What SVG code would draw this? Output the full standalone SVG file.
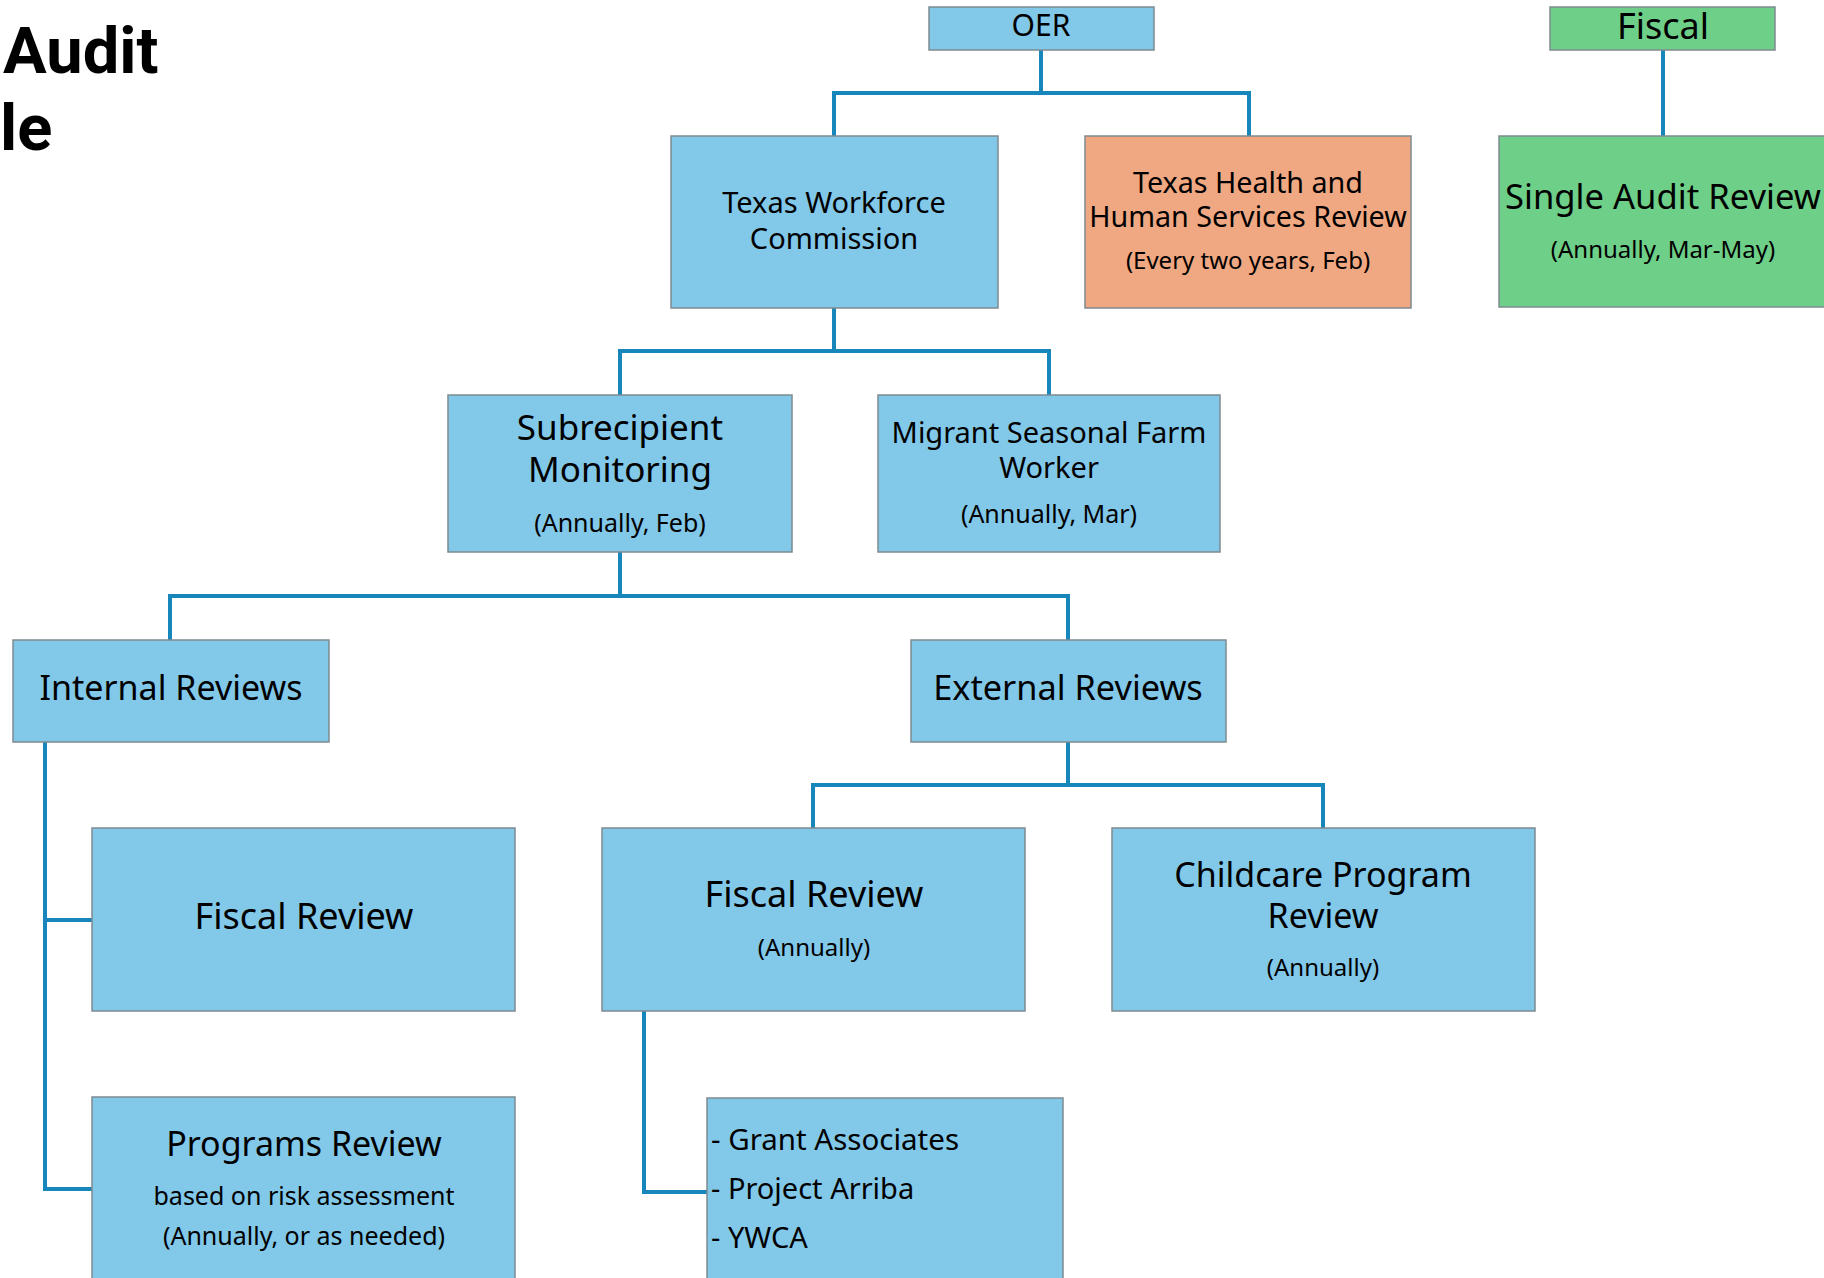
<svg xmlns="http://www.w3.org/2000/svg" width="1824" height="1278" viewBox="0 0 1824 1278">
<style>
.box{stroke:#7f8a90;stroke-width:1.5}
.blue{fill:#82C8E9}
.orange{fill:#F0A882}
.green{fill:#6ECF88}
text{font-family:"Noto Sans","Open Sans","Liberation Sans",sans-serif;fill:#000;text-anchor:middle}
.l{text-anchor:start}
.conn{fill:none;stroke:#1786BB;stroke-width:4;stroke-linejoin:miter;stroke-linecap:butt}
.title{font-family:Roboto,"Liberation Sans",sans-serif;font-weight:bold;font-size:65px;text-anchor:start}
</style>
<rect width="1824" height="1278" fill="#ffffff"/>
<text class="title" x="3" y="73">Audit</text>
<text class="title" x="0" y="150">le</text>
<g id="connectors">
<path class="conn" d="M1041,50 V93"/>
<path class="conn" d="M834,136 V93 H1249 V136"/>
<path class="conn" d="M1663,50 V136"/>
<path class="conn" d="M834,308 V351"/>
<path class="conn" d="M620,395 V351 H1049 V395"/>
<path class="conn" d="M620,552 V596"/>
<path class="conn" d="M170,640 V596 H1068 V640"/>
<path class="conn" d="M45,742 V1189 H92"/>
<path class="conn" d="M45,920 H92"/>
<path class="conn" d="M1068,742 V785"/>
<path class="conn" d="M813,828 V785 H1323 V828"/>
<path class="conn" d="M644,1011 V1192 H707"/>
</g>
<g id="oer">
<rect class="box blue" x="929" y="7" width="225" height="43"/>
<text x="1041" y="36" font-size="30">OER</text>
</g>
<g id="fiscal">
<rect class="box green" x="1550" y="7" width="225" height="43"/>
<text x="1663" y="39" font-size="36">Fiscal</text>
</g>
<g id="twc">
<rect class="box blue" x="671" y="136" width="327" height="172"/>
<text x="834" y="213" font-size="29">Texas Workforce</text>
<text x="834" y="249" font-size="29">Commission</text>
</g>
<g id="thhs">
<rect class="box orange" x="1085" y="136" width="326" height="172"/>
<text x="1248" y="193" font-size="28.7">Texas Health and</text>
<text x="1248" y="227" font-size="28.7">Human Services Review</text>
<text x="1248" y="269" font-size="24">(Every two years, Feb)</text>
</g>
<g id="single-audit">
<rect class="box green" x="1499" y="136" width="340" height="171"/>
<text x="1663" y="209" font-size="34.6">Single Audit Review</text>
<text x="1663" y="258" font-size="24">(Annually, Mar-May)</text>
</g>
<g id="subrecipient">
<rect class="box blue" x="448" y="395" width="344" height="157"/>
<text x="620" y="440" font-size="35">Subrecipient</text>
<text x="620" y="482" font-size="35">Monitoring</text>
<text x="620" y="532" font-size="25">(Annually, Feb)</text>
</g>
<g id="migrant">
<rect class="box blue" x="878" y="395" width="342" height="157"/>
<text x="1049" y="443" font-size="29">Migrant Seasonal Farm</text>
<text x="1049" y="478" font-size="29">Worker</text>
<text x="1049" y="523" font-size="25">(Annually, Mar)</text>
</g>
<g id="internal">
<rect class="box blue" x="13" y="640" width="316" height="102"/>
<text x="171" y="700" font-size="34">Internal Reviews</text>
</g>
<g id="external">
<rect class="box blue" x="911" y="640" width="315" height="102"/>
<text x="1068" y="700" font-size="34.3">External Reviews</text>
</g>
<g id="internal-fiscal">
<rect class="box blue" x="92" y="828" width="423" height="183"/>
<text x="304" y="929" font-size="36">Fiscal Review</text>
</g>
<g id="programs">
<rect class="box blue" x="92" y="1097" width="423" height="200"/>
<text x="304" y="1156" font-size="34">Programs Review</text>
<text x="304" y="1205" font-size="25">based on risk assessment</text>
<text x="304" y="1245" font-size="25">(Annually, or as needed)</text>
</g>
<g id="external-fiscal">
<rect class="box blue" x="602" y="828" width="423" height="183"/>
<text x="814" y="907" font-size="36">Fiscal Review</text>
<text x="814" y="956" font-size="24">(Annually)</text>
</g>
<g id="childcare">
<rect class="box blue" x="1112" y="828" width="423" height="183"/>
<text x="1323" y="887" font-size="34">Childcare Program</text>
<text x="1323" y="928" font-size="34">Review</text>
<text x="1323" y="976" font-size="24">(Annually)</text>
</g>
<g id="grantees">
<rect class="box blue" x="707" y="1098" width="356" height="200"/>
<text class="l" x="711" y="1150" font-size="29.5">- Grant Associates</text>
<text class="l" x="711" y="1199" font-size="29">- Project Arriba</text>
<text class="l" x="711" y="1248" font-size="29">- YWCA</text>
</g>
</svg>
